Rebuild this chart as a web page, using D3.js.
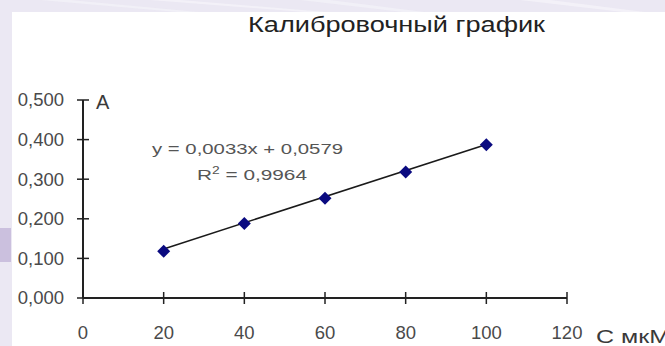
<!DOCTYPE html>
<html>
<head lang="ru">
    <meta charset="UTF-8">
    <title>Калибровочный график</title>
    <style>
        body { margin: 0; overflow: hidden; }
        text { font-family: "Liberation Sans", Arial, sans-serif; }
    </style>
</head>
<body>
<div id="chart"></div>
<script src="https://cdnjs.cloudflare.com/ajax/libs/d3/7.8.5/d3.min.js"></script>
<script>
// data
var conc = [20, 40, 60, 80, 100];
var absorb = [0.118, 0.188, 0.252, 0.318, 0.387];
var xTicks = [0, 20, 40, 60, 80, 100, 120];
var yTicks = [0, 0.1, 0.2, 0.3, 0.4, 0.5];
var trend = [0.0033, 0.0579]; // slope, intercept as printed on the chart
var eqLabel = "y = 0,0033x + 0,0579";
var r2Value = "0,9964";

var width = 665, height = 346;

var svg = d3.select("#chart").append("svg")
    .attr("width", width)
    .attr("height", height);

// lavender slide background with a few soft streaks
svg.append("rect").attr("width", width).attr("height", height).attr("fill", "#ebe8f3");
var streaks = [[40, 200, 0.5], [150, 330, 0.6], [300, 420, 0.5], [520, 640, 0.6]];
svg.append("g").selectAll("path")
    .data(streaks)
    .enter().append("path")
    .attr("d", function (d) { return "M" + d[0] + ",0 L" + (d[0] + 30) + ",0 L" + (d[1] + 20) + ",14 L" + d[1] + ",14 Z"; })
    .attr("fill", "#f8f7fc")
    .attr("opacity", function (d) { return d[2]; });
svg.append("rect").attr("x", 0).attr("y", 228).attr("width", 11).attr("height", 34)
    .attr("fill", "#cbc0de");

// white plot card
svg.append("rect").attr("x", 12).attr("y", 12).attr("width", width - 12).attr("height", height - 12)
    .attr("fill", "#ffffff");

var x = d3.scaleLinear().domain([0, 120]).range([83, 567]);
var y = d3.scaleLinear().domain([0, 0.5]).range([298, 100]);

var fmt = function (v) { return d3.format(".3f")(v).replace(".", ","); };

// title
svg.append("text")
    .attr("x", 248).attr("y", 32)
    .attr("textLength", 297).attr("lengthAdjust", "spacingAndGlyphs")
    .attr("font-size", 22)
    .attr("fill", "#222")
    .text("Калибровочный график");

// y axis
var yAxis = svg.append("g");
yAxis.append("line")
    .attr("x1", x(0)).attr("x2", x(0))
    .attr("y1", y(0.5)).attr("y2", y(0))
    .attr("stroke", "#222").attr("stroke-width", 2);
yAxis.selectAll(".ytick").data(yTicks).enter().append("line")
    .attr("class", "ytick")
    .attr("x1", x(0) - 6).attr("x2", x(0) + 6)
    .attr("y1", function (d) { return y(d); }).attr("y2", function (d) { return y(d); })
    .attr("stroke", "#222").attr("stroke-width", 1.5);
yAxis.selectAll(".ylab").data(yTicks).enter().append("text")
    .attr("class", "ylab")
    .attr("x", 64)
    .attr("y", function (d) { return y(d); })
    .attr("dy", "0.35em")
    .attr("text-anchor", "end")
    .attr("font-size", 18.5)
    .attr("fill", "#4a4a4a")
    .text(fmt);

// x axis
var xAxis = svg.append("g");
xAxis.append("line")
    .attr("x1", x(0)).attr("x2", x(120))
    .attr("y1", y(0)).attr("y2", y(0))
    .attr("stroke", "#222").attr("stroke-width", 2);
xAxis.selectAll(".xtick").data(xTicks).enter().append("line")
    .attr("class", "xtick")
    .attr("x1", function (d) { return x(d); }).attr("x2", function (d) { return x(d); })
    .attr("y1", y(0) - 6).attr("y2", y(0) + 6)
    .attr("stroke", "#222").attr("stroke-width", 1.5);
xAxis.selectAll(".xlab").data(xTicks).enter().append("text")
    .attr("class", "xlab")
    .attr("x", function (d) { return x(d); })
    .attr("y", 339)
    .attr("text-anchor", "middle")
    .attr("font-size", 18.5)
    .attr("fill", "#4a4a4a")
    .text(function (d) { return d; });

// axis names
svg.append("text")
    .attr("x", 96).attr("y", 109)
    .attr("font-size", 20)
    .attr("fill", "#3a3a3a")
    .text("A");
svg.append("text")
    .attr("x", 596).attr("y", 343)
    .attr("textLength", 74).attr("lengthAdjust", "spacingAndGlyphs")
    .attr("font-size", 19)
    .attr("fill", "#3a3a3a")
    .text("C мкМ");

// trend line
var line = d3.line()
    .x(function (d) { return x(d); })
    .y(function (d) { return y(trend[0] * d + trend[1]); });
svg.append("path")
    .datum([d3.min(conc), d3.max(conc)])
    .attr("d", line)
    .attr("fill", "none")
    .attr("stroke", "#1a1a1a")
    .attr("stroke-width", 1.6);

// markers
svg.append("g").selectAll("path")
    .data(conc)
    .enter().append("path")
    .attr("d", function (d, i) {
        var cx = x(d), cy = y(absorb[i]), r = 6.5;
        return "M" + cx + "," + (cy - r) + "L" + (cx + r) + "," + cy + "L" + cx + "," + (cy + r) + "L" + (cx - r) + "," + cy + "Z";
    })
    .attr("fill", "#0a0a80");

// equation
svg.append("text")
    .attr("x", 152).attr("y", 154)
    .attr("textLength", 191).attr("lengthAdjust", "spacingAndGlyphs")
    .attr("font-size", 15)
    .attr("fill", "#555")
    .text(eqLabel);
var r2 = svg.append("text")
    .attr("x", 197).attr("y", 180)
    .attr("textLength", 110).attr("lengthAdjust", "spacingAndGlyphs")
    .attr("font-size", 15)
    .attr("fill", "#555");
r2.append("tspan").text("R");
r2.append("tspan").attr("dy", -6).attr("font-size", 10).text("2");
r2.append("tspan").attr("dy", 6).text(" = " + r2Value);
</script>
</body>
</html>
